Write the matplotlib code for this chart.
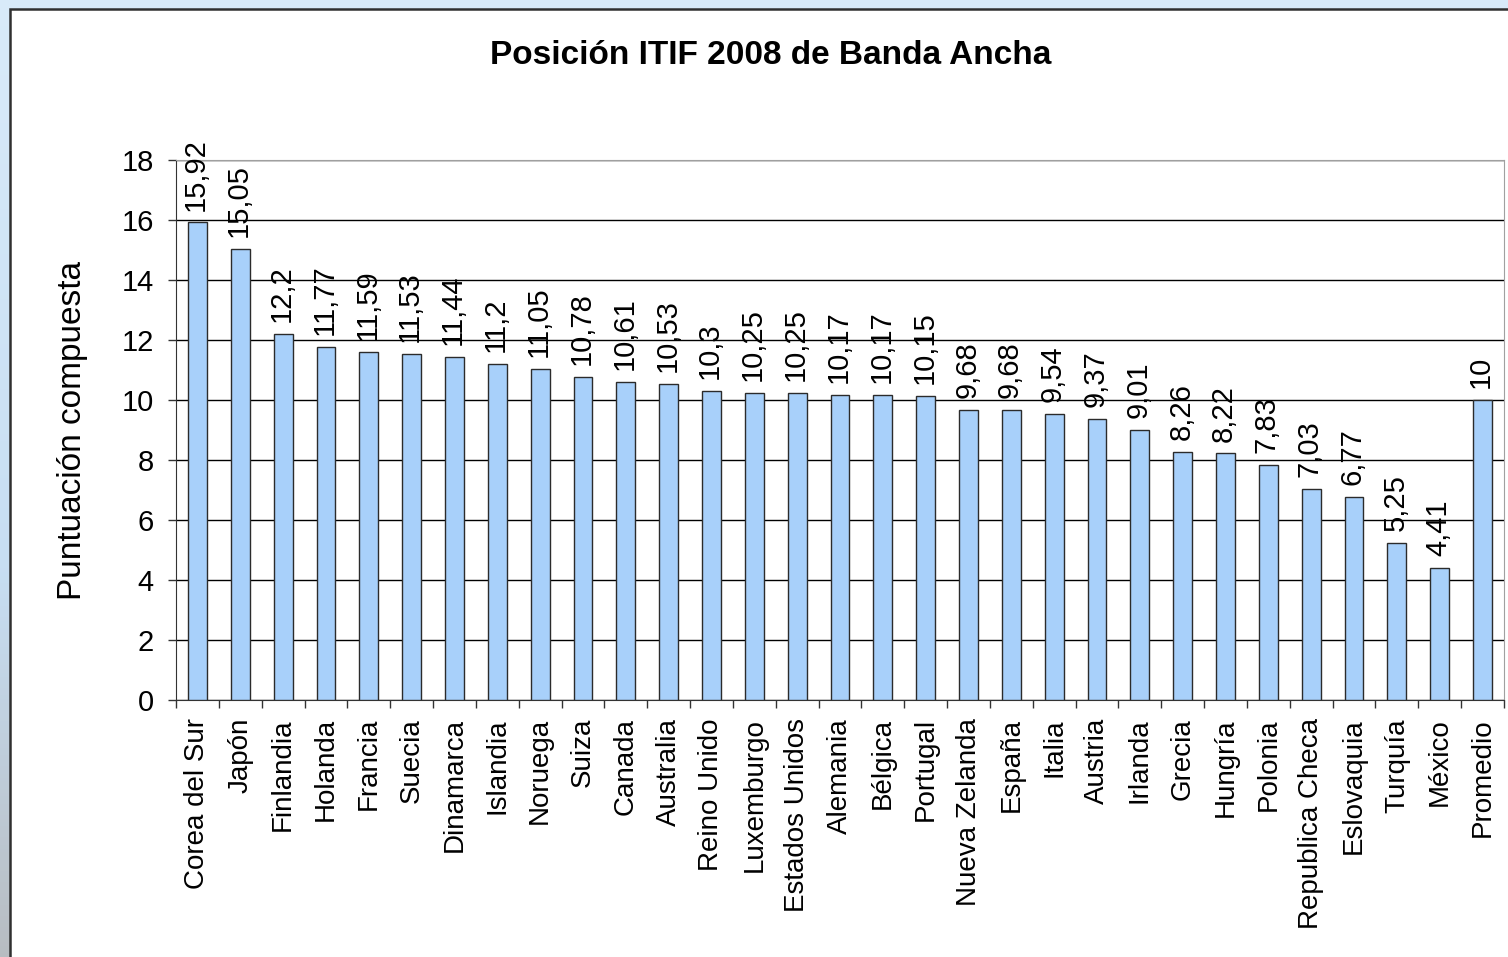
import matplotlib
matplotlib.use('Agg')
import matplotlib.pyplot as plt
from matplotlib.patches import Rectangle
import numpy as np

plt.rcParams['font.family'] = ['Liberation Sans', 'DejaVu Sans']

# Datos del ranking ITIF 2008 de banda ancha
paises = ['Corea del Sur', 'Japón', 'Finlandia', 'Holanda', 'Francia', 'Suecia',
          'Dinamarca', 'Islandia', 'Noruega', 'Suiza', 'Canada', 'Australia',
          'Reino Unido', 'Luxemburgo', 'Estados Unidos', 'Alemania', 'Bélgica',
          'Portugal', 'Nueva Zelanda', 'España', 'Italia', 'Austria', 'Irlanda',
          'Grecia', 'Hungría', 'Polonia', 'Republica Checa', 'Eslovaquia',
          'Turquía', 'México', 'Promedio']
puntuacion = [15.92, 15.05, 12.2, 11.77, 11.59, 11.53, 11.44, 11.2, 11.05, 10.78,
              10.61, 10.53, 10.3, 10.25, 10.25, 10.17, 10.17, 10.15, 9.68, 9.68,
              9.54, 9.37, 9.01, 8.26, 8.22, 7.83, 7.03, 6.77, 5.25, 4.41, 10]
ticks_y = list(range(0, 19, 2))
titulo = 'Posición ITIF 2008 de Banda Ancha'
etiqueta_y = 'Puntuación compuesta'

W, H = 1508, 957
fig = plt.figure(figsize=(W / 100, H / 100), dpi=100)

# fondo azulado de la diapositiva detrás del marco
bg = fig.add_axes([0, 0, 1, 1], zorder=-10)
t = np.linspace(0, 1, 256)[:, None]
c_top = np.array([0.85, 0.92, 0.98])
c_mid = np.array([0.78, 0.87, 0.95])
c_bot = np.array([0.72, 0.74, 0.76])
grad = np.where(t < 0.6, c_top + (c_mid - c_top) * (t / 0.6),
                c_mid + (c_bot - c_mid) * ((t - 0.6) / 0.4))
bg.imshow(grad[:, None, :], aspect='auto', extent=[0, 1, 0, 1])
bg.set_axis_off()

# marco blanco del gráfico
fig.add_artist(Rectangle((10 / W, -0.02), 1.0, 1 - 9 / H + 0.02,
                         transform=fig.transFigure, facecolor='white',
                         edgecolor='#303030', linewidth=1.8, zorder=-5))

ax = fig.add_axes([176 / W, 1 - 700 / H, (1504 - 176) / W, (700 - 160) / H])
ax.set_facecolor('white')

n = len(paises)
x = np.arange(n)
ax.bar(x, puntuacion, width=0.44, color='#A8D0FA', edgecolor='#2b2b2b',
       linewidth=1.0, zorder=3)

for xi, v in zip(x, puntuacion):
    ax.annotate(f'{v:g}'.replace('.', ','), (xi, v), xytext=(-1, 8.5),
                textcoords='offset points', rotation=90, ha='center',
                va='bottom', fontsize=21, zorder=4)

ax.set_xlim(-0.5, n - 0.5)
ax.set_ylim(0, 18)
ax.set_yticks(ticks_y)
ax.grid(axis='y', color='black', linewidth=1)
ax.set_axisbelow(True)

ax.set_xticks(x)
ax.set_xticklabels(paises, rotation=90)
ax.set_xticks(np.arange(n + 1) - 0.5, minor=True)
ax.tick_params(axis='x', which='major', length=0, pad=13, labelsize=20)
ax.tick_params(axis='x', which='minor', length=6, width=1, color='#333333')
ax.tick_params(axis='y', length=6, width=1, color='#333333', pad=10, labelsize=21)

for s in ['top', 'right']:
    ax.spines[s].set_color('#a0a0a0')
for s in ['left', 'bottom']:
    ax.spines[s].set_color('#333333')

ax.set_ylabel(etiqueta_y, fontsize=24)
ax.yaxis.set_label_coords(-0.0663, 0.5)

fig.text(771 / W, 1 - 55 / H, titulo, ha='center', va='center',
         fontsize=24, fontweight='bold')

fig.savefig('out.png', dpi=100)
